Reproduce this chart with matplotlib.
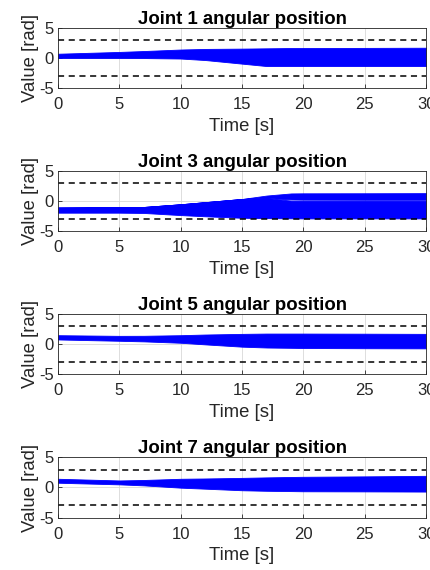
import matplotlib
matplotlib.use("Agg")
import matplotlib.pyplot as plt
import numpy as np

plt.rcParams["font.family"] = ["Liberation Sans", "DejaVu Sans"]
plt.rcParams["axes.unicode_minus"] = False

# envelope knots of the trajectory bundles (time in s, value in rad)
t_knots = [0, 5, 7, 10, 12, 15, 17, 19, 20, 25, 30]

j1_upper = [0.7, 1.0, 1.15, 1.4, 1.5, 1.55, 1.6, 1.65, 1.65, 1.67, 1.7]
j1_lower = [0.0, 0.0, -0.02, -0.1, -0.35, -0.95, -1.35, -1.35, -1.35, -1.35, -1.35]

j3_upper = [-1.1, -1.05, -1.0, -0.55, -0.2, 0.33, 0.9, 1.25, 1.27, 1.28, 1.3]
j3_gap_hi = [-1.1, -1.05, -1.0, -0.55, -0.2, 0.33, 0.5, 0.25, 0.22, 0.2, 0.2]
j3_gap_lo = [-1.1, -1.05, -1.0, -0.55, -0.2, 0.33, 0.5, 0.05, 0.05, 0.05, 0.05]
j3_lower = [-1.95, -1.95, -2.0, -2.35, -2.55, -2.8, -2.85, -2.88, -2.9, -2.9, -2.9]

j5_upper = [1.45, 1.34, 1.35, 1.45, 1.56, 1.67, 1.72, 1.72, 1.72, 1.7, 1.67]
j5_lower = [0.74, 0.52, 0.42, 0.19, -0.08, -0.46, -0.6, -0.65, -0.68, -0.72, -0.74]

j7_upper = [1.45, 1.17, 1.25, 1.45, 1.5, 1.6, 1.68, 1.75, 1.78, 1.85, 1.94]
j7_lower = [0.79, 0.52, 0.35, -0.03, -0.2, -0.46, -0.55, -0.6, -0.63, -0.65, -0.68]

joint_names = ["Joint 1 angular position", "Joint 3 angular position",
               "Joint 5 angular position", "Joint 7 angular position"]
joint_limits = [2.967, 2.967, 2.967, 2.99]

bands = [
    [(j1_lower, j1_upper)],
    [(j3_lower, j3_gap_lo), (j3_gap_hi, j3_upper)],
    [(j5_lower, j5_upper)],
    [(j7_lower, j7_upper)],
]

fig = plt.figure(figsize=(4.3, 5.7), dpi=100)
bottoms = [0.8456, 0.5947, 0.3439, 0.092]
dark = "#262626"

for name, lim, band, b in zip(joint_names, joint_limits, bands, bottoms):
    ax = fig.add_axes([0.135, b, 0.856, 0.1055])
    t_fine = np.linspace(0, 30, 301)
    for lo, hi in band:
        ax.fill_between(t_fine, np.interp(t_fine, t_knots, lo),
                        np.interp(t_fine, t_knots, hi),
                        color="#0000ff", linewidth=0.6, edgecolor="#0000ff")
    ax.axhline(lim, color="black", linestyle=(0, (4, 3)), linewidth=1.1)
    ax.axhline(-lim, color="black", linestyle=(0, (4, 3)), linewidth=1.1)
    ax.set_xlim(0, 30)
    ax.set_ylim(-5, 5)
    ax.set_xticks([0, 5, 10, 15, 20, 25, 30])
    ax.set_yticks([-5, 0, 5])
    ax.grid(True, color="#d8d8d8", linewidth=0.6)
    ax.set_axisbelow(True)
    ax.tick_params(direction="in", length=3, width=0.6, colors=dark,
                   labelsize=12)
    ax.tick_params(axis="x", pad=6.5)
    ax.tick_params(axis="y", pad=3)
    for sp in ax.spines.values():
        sp.set_color(dark)
        sp.set_linewidth(0.6)
    ax.set_title(name, fontsize=13.4, fontweight="bold", pad=3)
    ax.set_xlabel("Time [s]", fontsize=13.3, color=dark, labelpad=4)
    ax.set_ylabel("Value [rad]", fontsize=13.3, color=dark, labelpad=0)

fig.savefig("out.png", dpi=100)
